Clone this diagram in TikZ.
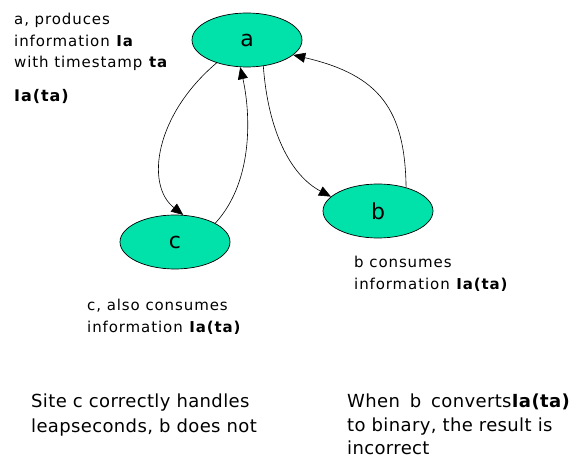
\documentclass[tikz,border=0pt]{standalone}
\usepackage{fontspec}
\setmainfont{DejaVu Sans}
\newfontfamily\notefont[LetterSpace=6]{DejaVu Sans}
\newfontfamily\remarkfont[LetterSpace=2]{DejaVu Sans}
\usetikzlibrary{shapes.geometric,arrows.meta}
\definecolor{sitefill}{RGB}{0,226,170}
\tikzset{
  site/.style={ellipse, draw=black, line width=0.7pt, fill=sitefill,
    minimum width=110pt, minimum height=54pt, inner sep=0pt,
    font=\fontsize{22}{26}\selectfont},
  flow/.style={line width=0.6pt, -{Triangle[length=12pt,width=10pt]}},
  note/.style={anchor=base west, inner sep=0pt, font=\notefont\fontsize{15}{18}\selectfont},
  remark/.style={anchor=base west, inner sep=0pt, font=\remarkfont\fontsize{18}{21}\selectfont}
}
\newcommand{\widesp}{\hspace{0.55em}}
\begin{document}
\begin{tikzpicture}[x=1pt,y=-1pt]
  \useasboundingbox (0,0) rectangle (584,457);

  % the three sites
  \node[site] (a) at (247,40) {a};
  \node[site] (b) at (378,211) {b};
  \node[site] (c) at (175,242) {c};

  % information flows between the sites
  \draw[flow] (a.217) .. controls (155,115) and (145,185) .. (c.73);
  \draw[flow] (c.25) .. controls (255,180) and (250,110) .. (a.256);
  \draw[flow] (a.302) .. controls (268,130) and (290,175) .. (b.163);
  \draw[flow] (b.40) .. controls (405,110) and (380,75) .. (a.342);

  % notes on each site
  \node[note] (na1) at (14,25) {a, produces};
  \node[note] (na2) at (14,47) {information \textbf{Ia}};
  \node[note] (na3) at (14,68) {with timestamp \textbf{ta}};
  \node[note] (na4) at (14,102) {\textbf{\fontsize{16}{18}\selectfont Ia(ta)}};

  \node[note] (nb1) at (354,268) {b consumes};
  \node[note] (nb2) at (354,290) {information \textbf{Ia(ta)}};

  \node[note] (nc1) at (87,311) {c, also consumes};
  \node[note] (nc2) at (87,332) {information \textbf{Ia(ta)}};

  % conclusions
  \node[remark] (r1) at (31,407) {Site c correctly handles};
  \node[remark] (r2) at (31,432) {leapseconds, b does not};

  \node[remark] (s1) at (347,407) {When\widesp b\widesp converts\textbf{Ia(ta)}};
  \node[remark] (s2) at (347,431) {to binary, the result is};
  \node[remark] (s3) at (347,454) {incorrect};
\end{tikzpicture}
\end{document}
